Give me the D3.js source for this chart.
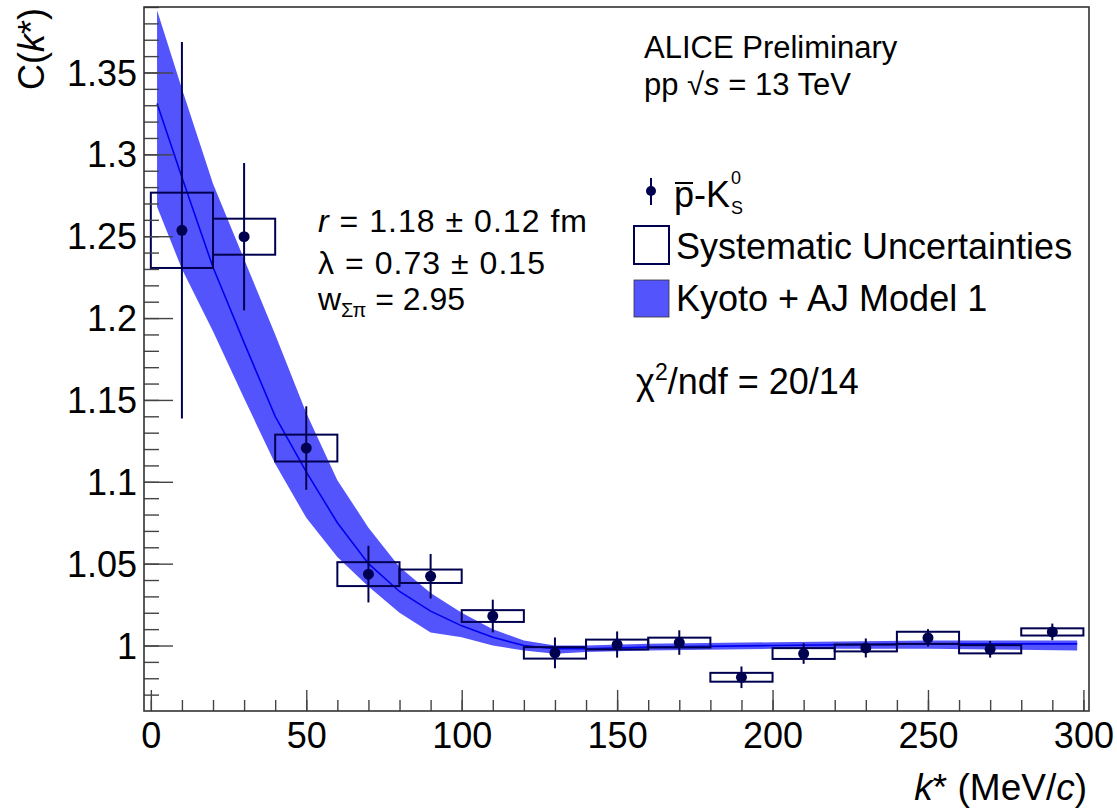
<!DOCTYPE html>
<html lang="en">
<head>
  <meta charset="UTF-8">
  <title>pbar-K0S correlation</title>
  <script src="https://cdn.jsdelivr.net/npm/d3@7"></script>
  <style>
    body { margin: 0; background: #fff; }
    svg text { font-family: "Liberation Sans", Arial, Helvetica, sans-serif; fill: #000; }
  </style>
</head>
<body>
  <div id="chart"></div>

  <script>
    // measured points (bin centres, k* in MeV/c)
    const kStar = [10, 30, 50, 70, 90, 110, 130, 150, 170, 190, 210, 230, 250, 270, 290];
    const cValue = [1.2536, 1.2497, 1.1206, 1.0436, 1.0423, 1.0180, 0.9955, 1.0006, 1.0018, 0.9806, 0.9951, 0.9985, 1.0047, 0.9977, 1.0083];
    const statErr = [0.115, 0.045, 0.0255, 0.0173, 0.0136, 0.0100, 0.0094, 0.0080, 0.0075, 0.0066, 0.0063, 0.0058, 0.0053, 0.0051, 0.0051];
    const sysErr = [0.023, 0.011, 0.0082, 0.0073, 0.0041, 0.0036, 0.0035, 0.0030, 0.0030, 0.0027, 0.0033, 0.0021, 0.0037, 0.0025, 0.0022];
    const binHalfWidth = 10;

    // Kyoto + AJ model 1 band
    const modelK = [2, 10, 20, 30, 40, 50, 60, 70, 80, 90, 100, 110, 120, 130, 140, 160, 200, 250, 298];
    const modelMid = [1.331, 1.286, 1.231, 1.185, 1.140, 1.106, 1.075, 1.050, 1.033, 1.021, 1.012, 1.005, 1.000, 0.998, 0.998, 0.999, 1.000, 1.001, 1.001];
    const modelLow = [1.268, 1.230, 1.192, 1.151, 1.111, 1.078, 1.054, 1.036, 1.020, 1.008, 1.005, 1.000, 0.997, 0.995, 0.996, 0.997, 0.998, 0.998, 0.997];
    const modelHigh = [1.388, 1.340, 1.282, 1.236, 1.190, 1.142, 1.101, 1.072, 1.048, 1.032, 1.020, 1.010, 1.003, 1.000, 1.000, 1.001, 1.002, 1.003, 1.003];

    const xTicks = [0, 50, 100, 150, 200, 250, 300];
    const yTicks = [1, 1.05, 1.1, 1.15, 1.2, 1.25, 1.3, 1.35];

    const width = 1117, height = 809;
    const padL = 144, padR = 1089, padT = 7, padB = 711;
    const dataColor = "#000050", bandColor = "#5454fc", lineColor = "#0000f0";

    const svg = d3.select("#chart").append("svg")
      .attr("width", width)
      .attr("height", height);

    const x = d3.scaleLinear().domain([-2.2, 301.8]).range([padL, padR]);
    const y = d3.scaleLinear().domain([0.96, 1.39]).range([padB, padT]);

    // model band + central line
    const model = modelK.map((k, i) => ({k, mid: modelMid[i], lo: modelLow[i], hi: modelHigh[i]}));

    svg.append("path")
      .datum(model)
      .attr("fill", bandColor)
      .attr("d", d3.area().x(d => x(d.k)).y0(d => y(d.lo)).y1(d => y(d.hi)));

    svg.append("path")
      .datum(model)
      .attr("fill", "none")
      .attr("stroke", lineColor)
      .attr("stroke-width", 1.6)
      .attr("d", d3.line().x(d => x(d.k)).y(d => y(d.mid)));

    const pts = kStar.map((k, i) => ({k, c: cValue[i], stat: statErr[i], sys: sysErr[i]}));

    // systematic boxes
    svg.selectAll(".sys")
      .data(pts)
      .join("rect")
      .attr("class", "sys")
      .attr("x", d => x(d.k - binHalfWidth))
      .attr("width", d => x(d.k + binHalfWidth) - x(d.k - binHalfWidth))
      .attr("y", d => y(d.c + d.sys))
      .attr("height", d => y(d.c - d.sys) - y(d.c + d.sys))
      .attr("fill", "none")
      .attr("stroke", dataColor)
      .attr("stroke-width", 2);

    // statistical error bars
    svg.selectAll(".stat")
      .data(pts)
      .join("line")
      .attr("class", "stat")
      .attr("x1", d => x(d.k)).attr("x2", d => x(d.k))
      .attr("y1", d => y(d.c - d.stat)).attr("y2", d => y(d.c + d.stat))
      .attr("stroke", dataColor)
      .attr("stroke-width", 2);

    svg.selectAll(".pt")
      .data(pts)
      .join("circle")
      .attr("class", "pt")
      .attr("cx", d => x(d.k))
      .attr("cy", d => y(d.c))
      .attr("r", 5.5)
      .attr("fill", dataColor);

    // axes (ticks inside the frame, ROOT style)
    const yMinor = d3.range(97, 140).map(v => v / 100);
    const xMinor = d3.range(0, 301, 10);

    svg.append("g")
      .attr("transform", `translate(${padL},0)`)
      .call(d3.axisLeft(y).tickValues(yMinor).tickSize(-15).tickSizeOuter(0).tickFormat(""))
      .call(g => g.select(".domain").remove())
      .selectAll("line").attr("stroke", "#444").attr("stroke-width", 1.4);

    const yAxis = svg.append("g")
      .attr("transform", `translate(${padL},0)`)
      .call(d3.axisLeft(y).tickValues(yTicks).tickSize(-29).tickSizeOuter(0)
        .tickPadding(7).tickFormat(d3.format("~g")));
    yAxis.select(".domain").remove();
    yAxis.selectAll("line").attr("stroke", "#444").attr("stroke-width", 1.4);
    yAxis.selectAll("text").attr("font-size", 36).attr("dy", "0.35em")
      .style("font-family", "'Liberation Sans', Arial, sans-serif").attr("fill", "#000");

    svg.append("g")
      .attr("transform", `translate(0,${padB})`)
      .call(d3.axisBottom(x).tickValues(xMinor).tickSize(-11).tickSizeOuter(0).tickFormat(""))
      .call(g => g.select(".domain").remove())
      .selectAll("line").attr("stroke", "#444").attr("stroke-width", 1.4);

    const xAxis = svg.append("g")
      .attr("transform", `translate(0,${padB})`)
      .call(d3.axisBottom(x).tickValues(xTicks).tickSize(-21).tickSizeOuter(0).tickPadding(11));
    xAxis.select(".domain").remove();
    xAxis.selectAll("line").attr("stroke", "#444").attr("stroke-width", 1.4);
    xAxis.selectAll("text").attr("font-size", 36)
      .style("font-family", "'Liberation Sans', Arial, sans-serif").attr("fill", "#000");

    // frame
    svg.append("rect")
      .attr("x", padL).attr("y", padT)
      .attr("width", padR - padL).attr("height", padB - padT)
      .attr("fill", "none")
      .attr("stroke", "#333")
      .attr("stroke-width", 1.6);

    // axis titles
    const xt = svg.append("text")
      .attr("x", 1087).attr("y", 800)
      .attr("text-anchor", "end")
      .attr("font-size", 37);
    xt.append("tspan").attr("font-style", "italic").text("k");
    xt.append("tspan").text("* (MeV/");
    xt.append("tspan").attr("font-style", "italic").text("c");
    xt.append("tspan").text(")");

    const yt = svg.append("text")
      .attr("transform", "translate(44,8) rotate(-90)")
      .attr("text-anchor", "end")
      .attr("font-size", 36);
    yt.append("tspan").text("C(");
    yt.append("tspan").attr("font-style", "italic").text("k");
    yt.append("tspan").text("*)");

    // header
    svg.append("text").attr("x", 644).attr("y", 58).attr("font-size", 31).text("ALICE Preliminary");
    const pp = svg.append("text").attr("x", 644).attr("y", 95).attr("font-size", 31);
    pp.append("tspan").text("pp  \u221A");
    pp.append("tspan").attr("font-style", "italic").text("s");
    pp.append("tspan").text(" = 13 TeV");

    // fit parameters
    const r1 = svg.append("text").attr("x", 318).attr("y", 232).attr("font-size", 32);
    r1.append("tspan").attr("font-style", "italic").text("r");
    r1.append("tspan").text(" = 1.18 \u00B1 0.12 fm");
    r1.attr("textLength", 269);
    svg.append("text").attr("x", 318).attr("y", 274).attr("font-size", 32)
      .attr("textLength", 227).text("\u03BB = 0.73 \u00B1 0.15");
    const w1 = svg.append("text").attr("x", 318).attr("y", 310).attr("font-size", 32);
    w1.append("tspan").text("w");
    w1.append("tspan").attr("font-size", 20).attr("dy", 7).text("\u03A3\u03C0");
    w1.append("tspan").attr("dy", -7).text(" = 2.95");

    // legend
    const lg = svg.append("g");
    lg.append("line").attr("x1", 651).attr("x2", 651).attr("y1", 178).attr("y2", 205)
      .attr("stroke", dataColor).attr("stroke-width", 2);
    lg.append("circle").attr("cx", 651).attr("cy", 191).attr("r", 5).attr("fill", dataColor);

    const lp = lg.append("text").attr("x", 674).attr("y", 207).attr("font-size", 36).text("p-K");
    const pW = lp.node().getSubStringLength(0, 1);
    const lpW = lp.node().getComputedTextLength();
    lg.append("line").attr("x1", 675).attr("x2", 674 + pW - 1).attr("y1", 183).attr("y2", 183)
      .attr("stroke", "#000").attr("stroke-width", 2);
    lg.append("text").attr("x", 674 + lpW + 1).attr("y", 184).attr("font-size", 18).text("0");
    lg.append("text").attr("x", 674 + lpW + 1).attr("y", 214).attr("font-size", 18).text("S");

    lg.append("rect").attr("x", 634).attr("y", 226).attr("width", 35).attr("height", 38)
      .attr("fill", "none").attr("stroke", dataColor).attr("stroke-width", 2);
    lg.append("text").attr("x", 676).attr("y", 259).attr("font-size", 36).text("Systematic Uncertainties");

    lg.append("rect").attr("x", 634).attr("y", 280).attr("width", 35).attr("height", 37)
      .attr("fill", bandColor).attr("stroke", "#333").attr("stroke-width", 0.8);
    lg.append("text").attr("x", 676).attr("y", 311).attr("font-size", 36).text("Kyoto + AJ Model 1");

    const chi = svg.append("text").attr("x", 636).attr("y", 394).attr("font-size", 36);
    chi.append("tspan").text("\u03C7");
    chi.append("tspan").attr("font-size", 23).attr("dy", -14).text("2");
    chi.append("tspan").attr("dy", 14).text("/ndf = 20/14");
  </script>
</body>
</html>
